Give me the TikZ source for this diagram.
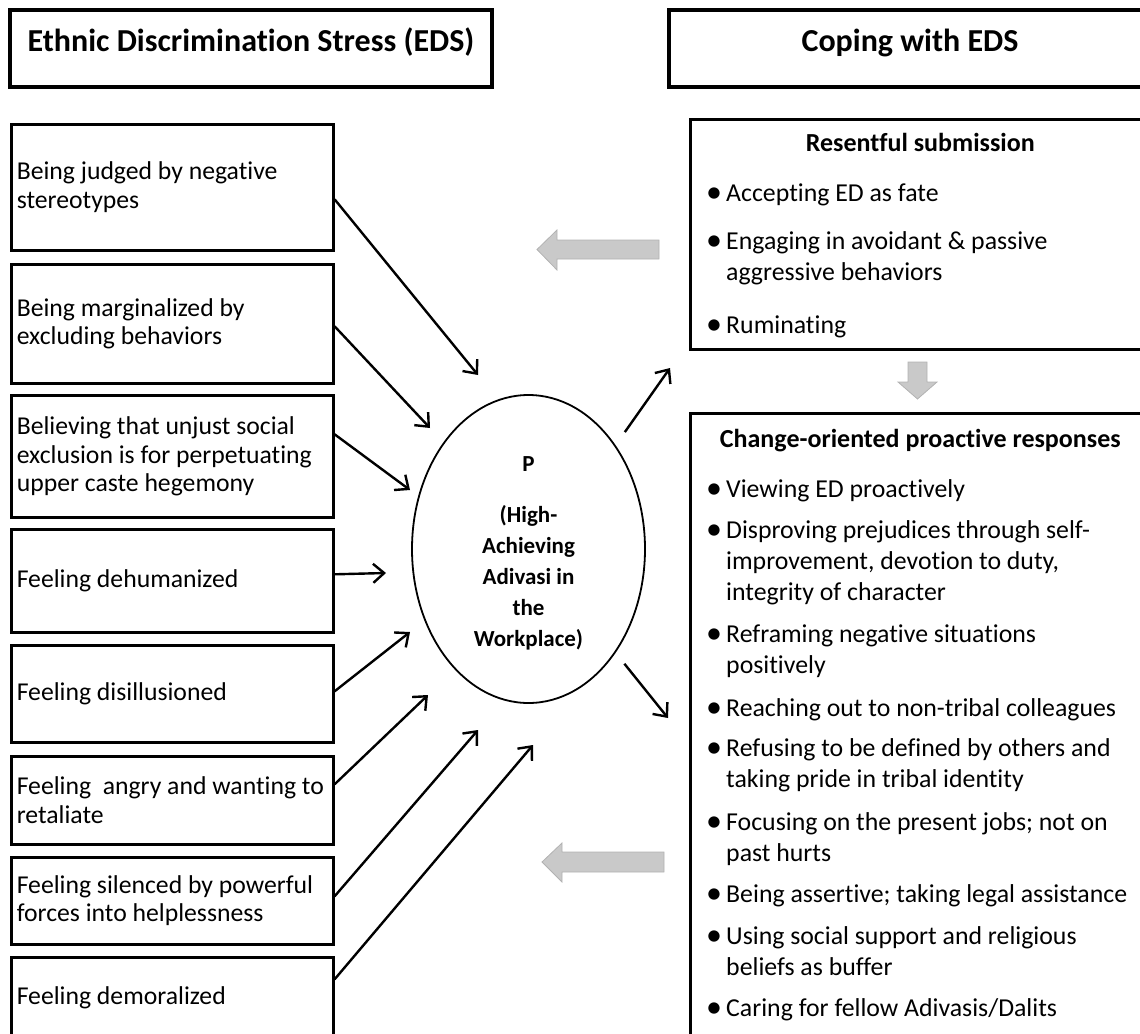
\documentclass[tikz,border=0pt]{standalone}
\usepackage{fontspec}
\setmainfont{Carlito}[Ligatures=NoCommon]
\usetikzlibrary{arrows.meta,shapes.geometric,positioning}

% bullet item, continuation lines under the text
\newcommand{\bpt}[1]{\makebox[20pt][l]{\raisebox{-0.5pt}{\fontsize{32}{31}\selectfont\textbullet}}\begin{tabular}[t]{@{}l@{}}#1\end{tabular}}

\tikzset{
  headbox/.style={draw, line width=4pt, anchor=north west, minimum height=77pt,
    text height=42pt, text depth=35pt, inner ysep=0pt,
    font=\fontsize{32}{36}\selectfont\bfseries},
  causebox/.style={draw, line width=2.6pt, anchor=north west, minimum width=322pt,
    text width=311pt, inner xsep=5.5pt, align=flush left,
    font=\fontsize{25.7}{28.5}\selectfont},
  copebox/.style={draw, line width=2.6pt, anchor=north west, minimum width=460pt},
  copetitle/.style={anchor=base, inner sep=0pt, font=\fontsize{26}{30}\selectfont\bfseries},
  blt/.style={anchor=base west, inner sep=0pt, font=\fontsize{25.8}{31}\selectfont},
  person/.style={ellipse, draw, line width=1.8pt, minimum width=233pt, minimum height=308pt,
    inner sep=0pt},
  persontext/.style={align=center, inner sep=0pt, font=\fontsize{23}{31}\selectfont\bfseries},
  cue/.style={-{Straight Barb[length=11pt,width=19pt]}, line width=2.4pt},
  grayarrow/.style={fill=black!21, draw=black!30, line width=0.8pt}
}

\begin{document}
\begin{tikzpicture}[x=1pt,y=-1pt]
  \clip (0,0) rectangle (1140,1033);

  % headers
  \node[headbox, minimum width=482pt] (eds) at (8,8) {Ethnic Discrimination Stress (EDS)};
  \node[headbox, minimum width=482pt] (cope) at (667,8) {Coping with EDS};

  % stressors
  \node[causebox, minimum height=126pt] (s1) at (10,123) {Being judged by negative\\stereotypes};
  \node[causebox, minimum height=119pt] (s2) at (10,263) {Being marginalized by\\excluding behaviors};
  \node[causebox, minimum height=122pt] (s3) at (10,394) {Believing that unjust social\\exclusion is for perpetuating\\upper caste hegemony};
  \node[causebox, minimum height=103pt] (s4) at (10,528) {Feeling dehumanized};
  \node[causebox, minimum height=97pt] (s5) at (10,644) {Feeling disillusioned};
  \node[causebox, minimum height=88pt] (s6) at (10,755) {\mbox{Feeling\ \ angry and wanting to}\\retaliate};
  \node[causebox, minimum height=87pt] (s7) at (10,856) {Feeling silenced by powerful\\forces into helplessness};
  \node[causebox, minimum height=80pt] (s8) at (10,956) {Feeling demoralized};

  % the person
  \node[person] (P) at (528.5,549) {};
  \node[persontext] (Ptext) at ([yshift=-4pt]P.center) {P\\[20pt](High-\\Achieving\\Adivasi in\\the\\Workplace)};

  % arrow tips near P
  \coordinate (t1) at (478,375);
  \coordinate (t2) at (430,428);
  \coordinate (t3) at (410,490);
  \coordinate (t4) at (386,573);
  \coordinate (t5) at (410,632);
  \coordinate (t6) at (428,695);
  \coordinate (t7) at (478,730);
  \coordinate (t8) at (533,745);

  \draw[cue] ([yshift=-12pt]s1.east) -- (t1);
  \draw[cue] ([yshift=-2.5pt]s2.east) -- (t2);
  \draw[cue] ([yshift=22pt]s3.east) -- (t3);
  \draw[cue] ([yshift=6.5pt]s4.east) -- (t4);
  \draw[cue] ([yshift=2.5pt]s5.east) -- (t5);
  \draw[cue] ([yshift=16pt]s6.east) -- (t6);
  \draw[cue] ([yshift=4.5pt]s7.east) -- (t7);
  \draw[cue] ([yshift=18pt]s8.east) -- (t8);

  % coping boxes
  \node[copebox, minimum height=230pt] (rs) at (689,118) {};
  \node[copebox, minimum height=640pt] (co) at (689,412) {};

  \node[copetitle] (rstitle) at ([yshift=-33pt]rs.north) {Resentful submission};
  \node[blt] (rs1) at (706,201.5) {\bpt{Accepting ED as fate}};
  \node[blt] (rs2) at (706,249.5) {\bpt{Engaging in avoidant \& passive\\aggressive behaviors}};
  \node[blt] (rs3) at (706,333.5) {\bpt{Ruminating}};

  \node[copetitle] (cotitle) at ([yshift=-35pt]co.north) {Change-oriented proactive responses};
  \node[blt] (co1) at (706,497.5) {\bpt{Viewing ED proactively}};
  \node[blt] (co2) at (706,538.5) {\bpt{Disproving prejudices through self-\\improvement, devotion to duty,\\integrity of character}};
  \node[blt] (co3) at (706,642.5) {\bpt{Reframing negative situations\\positively}};
  \node[blt] (co4) at (706,716.5) {\bpt{Reaching out to non-tribal colleagues}};
  \node[blt] (co5) at (706,756.5) {\bpt{Refusing to be defined by others and\\taking pride in tribal identity}};
  \node[blt] (co6) at (706,830.5) {\bpt{Focusing on the present jobs; not on\\past hurts}};
  \node[blt] (co7) at (706,902.5) {\bpt{Being assertive; taking legal assistance}};
  \node[blt] (co8) at (706,944.5) {\bpt{Using social support and religious\\beliefs as buffer}};
  \node[blt] (co9) at (706,1016.5) {\bpt{Caring for fellow Adivasis/Dalits}};

  % P to coping
  \coordinate (u1) at (670,368);
  \coordinate (u2) at (668,718);
  \draw[cue, shorten <=16pt] (P.50) -- (u1);
  \draw[cue, shorten <=14pt] (P.-50) -- (u2);

  % gray feedback arrows
  \draw[grayarrow] (659,240) -- (557,240) -- (557,230) -- (537,249.5) -- (557,270) -- (557,259) -- (659,259) -- cycle;
  \draw[grayarrow] (664,852) -- (562,852) -- (562,843) -- (542,862) -- (562,882) -- (562,872) -- (664,872) -- cycle;
  \draw[grayarrow] (908,362) -- (927,362) -- (927,382) -- (937,382) -- (917.5,399) -- (898,382) -- (908,382) -- cycle;
\end{tikzpicture}
\end{document}
